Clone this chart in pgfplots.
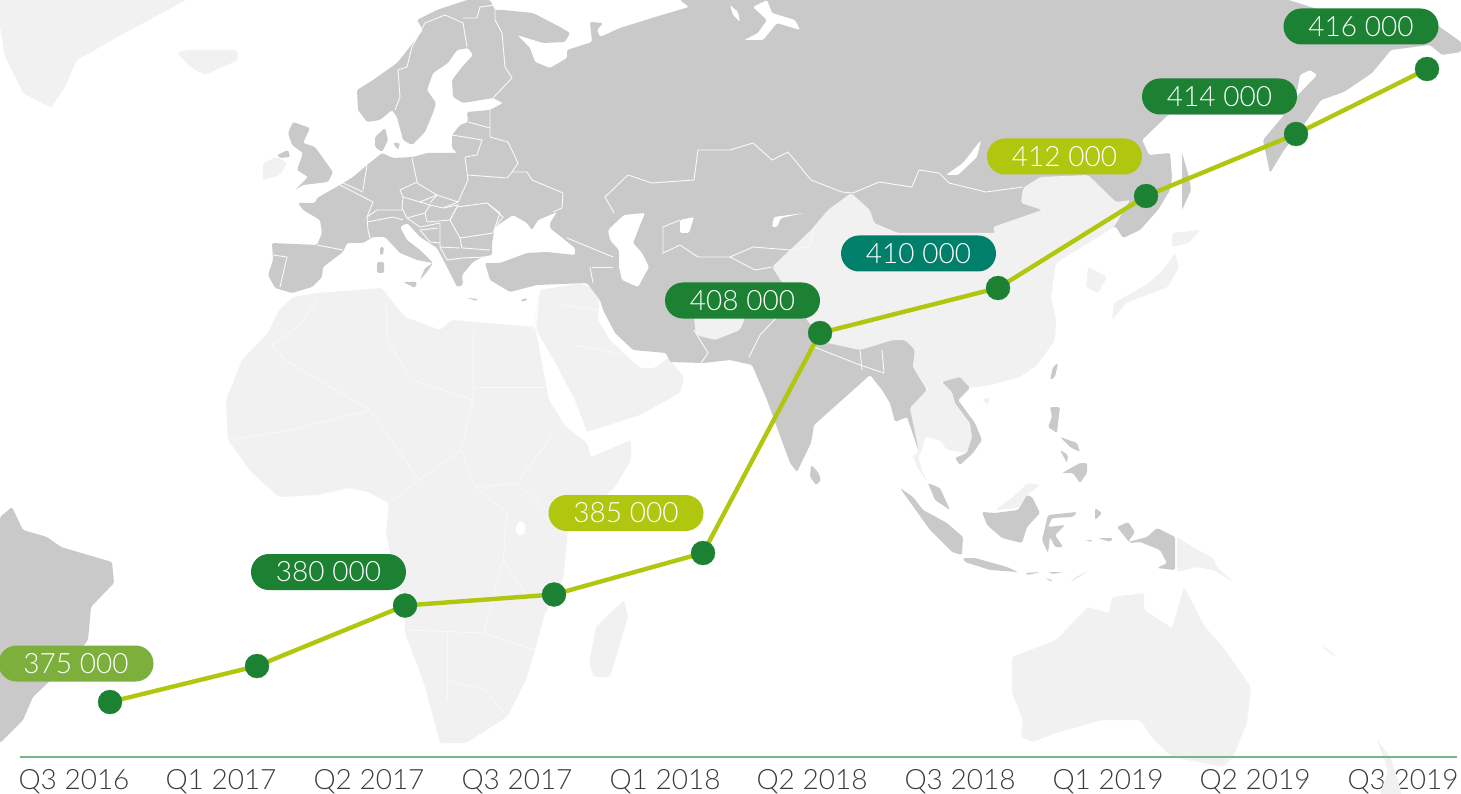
\documentclass[border=0pt]{standalone}
\usepackage{pgfplots}
\pgfplotsset{compat=1.18}
\usepackage{fontspec}
\setmainfont{Lato Light}
\definecolor{gg}{HTML}{C9C9C9}
\definecolor{lg}{HTML}{F1F1F1}
\definecolor{dgreen}{HTML}{1C8133}
\definecolor{lime}{HTML}{B1C70F}
\definecolor{mgreen}{HTML}{7DAF3C}
\definecolor{teal2}{HTML}{00806B}
\definecolor{base}{HTML}{78B68A}
\definecolor{tick}{HTML}{3C3C3C}
\definecolor{bpale}{HTML}{F9F9F9}
\pgfplotsset{
 land/.style={fill=gg,draw=none,mark=none,forget plot,rounded corners=1.5pt},
 pale/.style={fill=lg,draw=none,mark=none,forget plot,rounded corners=2pt},
 sea/.style={fill=white,draw=none,mark=none,forget plot,rounded corners=1.5pt},
 bd/.style={draw=white!90!gg,line width=0.9pt,mark=none,forget plot,fill=none},
 bl/.style={draw=bpale,line width=0.8pt,mark=none,forget plot,fill=none},
}
\begin{document}
\begin{tikzpicture}
\path[use as bounding box,clip] (0,0) rectangle (1461pt,794pt);
\begin{axis}[
 at={(20pt,37pt)},anchor=south west,
 scale only axis,width=1437pt,height=757pt,
 xmin=20,xmax=1457,ymin=0,ymax=757,y dir=reverse,
 clip=false,
 axis line style={draw=none},
 ytick=\empty,
 xtick={74,221,369,517,665,812,960,1108,1255,1403},
 xticklabels={Q3 2016,Q1 2017,Q2 2017,Q3 2017,Q1 2018,Q2 2018,Q3 2018,Q1 2019,Q2 2019,Q3 2019},
 xticklabel pos=lower,
 tick style={draw=none},
 xticklabel style={font=\fontsize{28}{30}\selectfont,text=tick,anchor=center,yshift=-25pt},
]
% ---- pale land
\addplot[pale] coordinates {(0,0)(186,0)(121,35)(77,60)(65,87)(51,108)(23,93)(5,57)(0,27)} --cycle;
\addplot[pale] coordinates {(177,52)(190,50)(237,50)(238,60)(205,75)(190,67)} --cycle;
\addplot[pale] coordinates {(263,163)(277,157)(287,163)(280,175)(263,180)} --cycle;
% Africa
\addplot[pale] coordinates {(293,297)(317,293)(382,288)(391,300)(405,317)(440,330)(452,320)(535,327)(549,400)(566,427)(587,443)(591,457)(631,440)(631,460)(615,487)(568,530)(563,580)(545,613)(535,650)(526,680)(507,717)(466,743)(440,743)(424,683)(405,633)(405,617)(391,557)(386,533)(389,503)(368,492)(349,488)(317,495)(279,497)(251,472)(228,440)(226,400)(242,360)(268,333)(279,310)} --cycle;
\addplot[pale] coordinates {(624,600)(628,617)(610,677)(594,677)(589,663)(596,627)} --cycle;
% Arabia
\addplot[pale] coordinates {(540,290)(582,283)(600,293)(598,320)(610,340)(628,357)(640,368)(655,368)(668,358)(684,377)(680,393)(640,415)(587,432)(575,400)(555,362)(536,330)} --cycle;
% Australia etc.
\addplot[pale] coordinates {(1012,657)(1056,640)(1088,607)(1109,613)(1112,597)(1144,593)(1144,610)(1172,628)(1184,587)(1205,627)(1223,647)(1251,687)(1247,723)(1233,757)(1223,767)(1172,757)(1154,740)(1140,720)(1102,720)(1056,733)(1033,742)(1021,737)(1023,720)(1012,693)} --cycle;
\addplot[pale] coordinates {(1377,740)(1391,758)(1402,794)(1380,794)(1388,770)} --cycle;
\addplot[pale] coordinates {(1321,646)(1326,648)(1336,656)(1333,656)} --cycle;
\addplot[pale] coordinates {(1177,537)(1193,547)(1213,558)(1217,567)(1233,582)(1213,570)(1197,567)(1177,572)} --cycle;
\addplot[pale] coordinates {(995,510)(1013,497)(1028,483)(1040,485)(1027,495)(1018,508)} --cycle;
\addplot[pale] coordinates {(1172,233)(1200,230)(1189,243)(1172,247)} --cycle;
\addplot[pale] coordinates {(1175,253)(1179,267)(1168,287)(1126,303)(1112,320)(1114,303)(1149,283)(1163,270)} --cycle;
\addplot[pale] coordinates {(1088,267)(1107,277)(1098,293)(1086,287)} --cycle;
\addplot[pale] coordinates {(982,400)(990,397)(988,405)} --cycle;
% ---- grey Eurasia
\addplot[land] coordinates {(467,0)(437,10)(417,20)(423,30)(413,43)(397,63)(373,80)(357,90)(358,110)(367,122)(380,120)(392,110)(397,117)(403,140)(412,145)(425,132)(433,113)(436,103)(427,90)(433,73)(448,63)(457,50)(468,48)(473,55)(462,67)(452,80)(453,97)(463,103)(493,98)(503,103)(490,110)(467,112)(468,122)(460,125)(452,135)(452,148)(457,153)(427,153)(413,157)(393,158)(382,153)(367,165)(353,177)(340,185)(317,198)(315,203)(298,203)(303,210)(320,220)(322,233)(317,245)(272,243)(273,260)(268,275)(275,288)(292,293)(312,287)(322,277)(323,267)(343,252)(347,243)(363,243)(373,237)(385,237)(400,253)(417,260)(433,263)(425,268)(420,280)(427,272)(433,263)(420,250)(407,240)(400,227)(407,223)(420,237)(437,248)(447,267)(457,287)(463,285)(462,275)(473,262)(482,257)(492,255)(492,243)(495,227)(513,215)(527,223)(532,230)(538,220)(557,212)(550,223)(550,228)(575,248)(575,255)(547,252)(527,253)(500,263)(485,263)(490,280)(510,292)(537,285)(587,283)(600,300)(603,310)(615,333)(633,350)(666,353)(670,362)(703,363)(730,360)(752,365)(767,400)(790,463)(797,472)(811,443)(814,425)(842,400)(870,375)(882,390)(890,403)(895,422)(907,417)(919,452)(921,447)(910,408)(927,390)(913,367)(915,350)(950,340)(1100,225)(1116,227)(1123,238)(1140,230)(1158,210)(1170,190)(1172,177)(1170,153)(1149,155)(1142,140)(1168,115)(1284,115)(1263,140)(1270,173)(1284,150)(1305,123)(1321,100)(1344,92)(1372,73)(1391,50)(1430,45)(1442,55)(1461,52)(1461,42)(1430,20)(1320,10)(1289,0)(680,0)(689,7)(652,18)(620,28)(600,37)(597,30)(603,23)(590,22)(592,42)(567,50)(567,58)(550,68)(535,62)(530,48)(517,35)(543,43)(565,42)(570,33)(560,27)(533,13)(503,10)(495,10)(490,0)} --cycle;
% islands, grey
\addplot[land] coordinates {(293,122)(310,128)(303,143)(315,147)(333,172)(328,182)(303,185)(295,190)(308,177)(297,170)(303,153)(292,145)(288,133)} --cycle;
\addplot[land] coordinates {(277,155)(288,150)(290,157)(280,158)} --cycle;
\addplot[land] coordinates {(375,137)(385,128)(388,140)(382,152)(375,147)} --cycle;
\addplot[land] coordinates {(393,143)(400,143)(398,150)} --cycle;
\addplot[land] coordinates {(377,262)(384,262)(384,273)(377,273)} --cycle;
\addplot[land] coordinates {(380,247)(384,247)(383,255)(380,255)} --cycle;
\addplot[land] coordinates {(403,282)(417,282)(415,288)} --cycle;
\addplot[land] coordinates {(467,298)(478,299)(477,301)} --cycle;
\addplot[land] coordinates {(520,300)(528,298)(524,302)} --cycle;
\addplot[land] coordinates {(811,465)(818,472)(821,480)(816,485)(810,477)} --cycle;
\addplot[land] coordinates {(1182,153)(1189,177)(1191,190)(1182,210)} --cycle;
\addplot[land] coordinates {(1050,380)(1053,367)(1058,363)(1055,377)} --cycle;
% Brazil
\addplot[land] coordinates {(0,517)(12,507)(23,530)(47,537)(61,547)(112,562)(114,583)(91,607)(88,640)(75,657)(33,697)(23,720)(0,743)} --cycle;
% ---- seas
\addplot[sea] coordinates {(608,230)(624,215)(645,213)(638,230)(633,243)(642,253)(649,267)(638,287)(622,280)(619,267)(619,250)(610,240)} --cycle;
\addplot[sea] coordinates {(680,220)(694,217)(689,233)(680,233)} --cycle;
\addplot[sea] coordinates {(946,175)(963,163)(981,140)(977,157)(958,175)} --cycle;
\addplot[sea] coordinates {(772,227)(774,217)(804,213)(781,218)(777,227)} --cycle;
\addplot[sea] coordinates {(767,0)(772,13)(795,20)(800,30)(777,23)(763,40)(744,40)(758,33)(767,20)(753,7)} --cycle;
\addplot[sea] coordinates {(730,5)(738,12)(740,22)(733,15)} --cycle;
\addplot[sea] coordinates {(1317,75)(1296,97)(1300,75)(1310,70)} --cycle;
\addplot[sea] coordinates {(519,521)(525,523)(525,534)(519,536)(515,530)} --cycle;
% ---- China and SE Asia, pale
\addplot[pale] coordinates {(772,267)(811,230)(828,210)(851,193)(870,210)(874,223)(898,233)(995,233)(993,227)(1042,210)(1021,203)(1023,188)(1040,177)(1088,175)(1116,202)(1130,200)(1114,227)(1056,263)(1051,297)(1056,320)(1055,340)(1037,365)(1020,377)(990,385)(970,388)(942,382)(927,390)(913,367)(915,350)(905,340)(893,340)(860,350)(823,342)(800,310)} --cycle;
\addplot[pale] coordinates {(927,390)(942,382)(952,392)(955,403)(970,423)(972,437)(967,453)(947,450)(940,440)(925,437)(922,450)(918,457)(922,470)(928,483)(917,467)(913,455)(919,452)(910,408)} --cycle;
\addplot[pale] coordinates {(694,318)(745,318)(740,330)(715,340)(696,335)} --cycle;
% grey on top
\addplot[land] coordinates {(942,382)(960,377)(970,388)(958,400)(975,423)(982,440)(973,453)(960,465)(955,458)(967,453)(972,437)(970,423)(955,403)(952,392)} --cycle;
\addplot[land] coordinates {(928,483)(940,488)(950,510)(935,500)} --cycle;
\addplot[land] coordinates {(900,488)(913,497)(923,510)(947,523)(963,537)(962,555)(952,552)(930,530)} --cycle;
\addplot[land] coordinates {(963,558)(975,558)(1007,567)(1018,572)(990,570)(965,562)} --cycle;
\addplot[land] coordinates {(1025,573)(1040,572)(1028,575)} --cycle;
\addplot[land] coordinates {(1048,572)(1063,572)(1053,574)} --cycle;
\addplot[land] coordinates {(1070,582)(1088,571)(1077,577)} --cycle;
\addplot[land] coordinates {(1045,578)(1052,580)(1052,582)} --cycle;
\addplot[land] coordinates {(982,512)(995,513)(1018,510)(1027,495)(1032,497)(1040,513)(1027,527)(1022,543)(1002,538)(987,525)} --cycle;
\addplot[land] coordinates {(1048,515)(1077,512)(1073,517)(1052,518)(1048,527)(1065,525)(1055,535)(1063,547)(1055,547)(1050,537)(1048,553)(1042,540)} --cycle;
\addplot[land] coordinates {(1095,508)(1102,513)(1095,520)} --cycle;
\addplot[land] coordinates {(1098,538)(1113,538)(1110,542)} --cycle;
\addplot[land] coordinates {(1085,540)(1092,540)(1092,542)} --cycle;
\addplot[land] coordinates {(1117,527)(1128,522)(1135,532)(1128,542)(1147,537)(1157,528)(1175,537)(1175,570)(1157,568)(1167,563)(1160,550)(1140,542)(1130,543)(1125,537)} --cycle;
\addplot[land] coordinates {(1050,407)(1060,407)(1058,423)(1057,433)(1048,427)(1052,417)} --cycle;
\addplot[land] coordinates {(1060,437)(1077,443)(1080,452)(1070,447)} --cycle;
\addplot[land] coordinates {(1060,450)(1068,455)(1067,463)} --cycle;
\addplot[land] coordinates {(1080,463)(1087,463)(1087,473)(1080,483)(1073,473)(1062,473)} --cycle;
% ---- borders on grey
\addplot[bd] coordinates {(425,23)(412,47)(407,67)(398,70)(400,97)(395,110)};
\addplot[bd] coordinates {(425,23)(445,15)(463,23)(467,47)};
\addplot[bd] coordinates {(463,18)(477,18)(480,7)(495,5)(495,20)(502,33)(505,67)(512,78)(493,98)};
\addplot[bd] coordinates {(490,110)(490,137)(508,142)(518,163)(512,172)(507,178)(468,175)};
\addplot[bd] coordinates {(468,122)(490,128)};
\addplot[bd] coordinates {(452,135)(482,140)(477,155)(465,157)};
\addplot[bd] coordinates {(465,157)(468,180)(458,202)};
\addplot[bd] coordinates {(512,172)(527,172)(532,180)(563,193)(562,208)(553,212)};
\addplot[bd] coordinates {(412,158)(417,182)(400,190)(403,197)(420,202)(437,195)(417,183)};
\addplot[bd] coordinates {(430,203)(437,195)(458,202)(443,208)(430,205)(420,202)};
\addplot[bd] coordinates {(403,197)(402,208)(407,218)(425,213)(430,205)};
\addplot[bd] coordinates {(425,213)(427,222)(450,220)(458,205)(443,208)};
\addplot[bd] coordinates {(450,220)(457,207)(487,203)(500,213)(493,233)(460,238)(450,220)};
\addplot[bd] coordinates {(487,203)(503,217)(497,225)};
\addplot[bd] coordinates {(460,238)(462,248)(490,250)};
\addplot[bd] coordinates {(440,223)(440,247)(460,248)};
\addplot[bd] coordinates {(420,230)(438,228)};
\addplot[bd] coordinates {(420,230)(430,242)(440,243)};
\addplot[bd] coordinates {(407,218)(420,227)(440,223)};
\addplot[bd] coordinates {(440,247)(447,260)(462,258)(485,257)};
\addplot[bd] coordinates {(340,185)(373,202)(367,217)(368,230)(370,238)};
\addplot[bd] coordinates {(367,165)(363,190)};
\addplot[bd] coordinates {(343,183)(363,192)};
\addplot[bd] coordinates {(367,217)(377,210)(402,210)};
\addplot[bd] coordinates {(367,222)(393,217)(403,220)};
\addplot[bd] coordinates {(317,245)(343,250)};
\addplot[bd] coordinates {(273,255)(287,257)(280,287)};
\addplot[bd] coordinates {(567,238)(613,257)};
\addplot[bd] coordinates {(592,267)(613,267)};
\addplot[bd] coordinates {(590,267)(593,283)};
\addplot[bd] coordinates {(614,213)(605,197)(628,175)(652,183)(694,180)(698,150)(730,150)(753,143)(772,160)(788,152)(811,180)(842,192)(853,193)(879,182)(912,187)(919,170)(939,173)(949,183)(986,192)(1023,187)};
\addplot[bd] coordinates {(663,227)(663,253)(680,245)(698,257)(730,257)(753,247)(790,250)(809,247)(814,230)};
\addplot[bd] coordinates {(663,227)(680,220)};
\addplot[bd] coordinates {(730,257)(755,270)(772,267)};
\addplot[bd] coordinates {(694,330)(708,353)(701,363)};
\addplot[bd] coordinates {(777,317)(760,335)(749,357)};
\addplot[bd] coordinates {(814,347)(860,365)(884,373)};
\addplot[bd] coordinates {(860,350)(862,370)};
\addplot[bd] coordinates {(882,350)(884,373)};
% ---- borders on pale
\addplot[bl] coordinates {(317,300)(300,325)(272,345)};
\addplot[bl] coordinates {(272,345)(285,360)(370,410)(419,480)};
\addplot[bl] coordinates {(386,300)(387,340)(412,380)(473,400)};
\addplot[bl] coordinates {(473,330)(473,400)};
\addplot[bl] coordinates {(473,387)(545,387)};
\addplot[bl] coordinates {(473,400)(461,450)(419,480)};
\addplot[bl] coordinates {(228,440)(290,430)(370,410)};
\addplot[bl] coordinates {(461,450)(475,487)(517,483)(554,433)};
\addplot[bl] coordinates {(389,503)(419,480)};
\addplot[bl] coordinates {(475,487)(507,513)(503,560)(530,600)};
\addplot[bl] coordinates {(517,483)(568,530)};
\addplot[bl] coordinates {(405,630)(484,633)(503,560)};
\addplot[bl] coordinates {(447,633)(447,700)};
\addplot[bl] coordinates {(484,633)(535,650)};
\addplot[bl] coordinates {(447,680)(485,690)(507,717)};
\addplot[bl] coordinates {(540,290)(533,330)};
\addplot[bl] coordinates {(560,305)(600,310)};
\addplot[bl] coordinates {(575,345)(628,355)};
% ---- baseline
\addplot[draw=base,line width=1.5pt,mark=none,forget plot] coordinates {(20,757)(1457,757)};
% ---- series
\addplot[draw=lime,line width=4.4pt,mark=*,mark size=12pt,mark options={fill=dgreen,draw=dgreen,line width=0.3pt}] coordinates {
 (110,702)(257,666)(405,605.5)(554,594.5)(703,553)(820,333)(998,288)(1146,196)(1296,134)(1427,69)};
% ---- labels
\tikzset{pill/.style={rounded corners=17.9pt,minimum width=155pt,minimum height=36pt,inner sep=0pt,text=white,font=\fontsize{28}{30}\selectfont,anchor=center}}
\node[pill,fill=mgreen] at (axis cs:76,663.5) {375 000};
\node[pill,fill=dgreen] at (axis cs:328.5,572) {380 000};
\node[pill,fill=lime] at (axis cs:626,513) {385 000};
\node[pill,fill=dgreen] at (axis cs:742.5,300.5) {408 000};
\node[pill,fill=teal2] at (axis cs:918.5,253.5) {410 000};
\node[pill,fill=lime] at (axis cs:1064.5,156.5) {412 000};
\node[pill,fill=dgreen] at (axis cs:1219.5,96.5) {414 000};
\node[pill,fill=dgreen] at (axis cs:1361,26.5) {416 000};
\end{axis}
\end{tikzpicture}
\end{document}
